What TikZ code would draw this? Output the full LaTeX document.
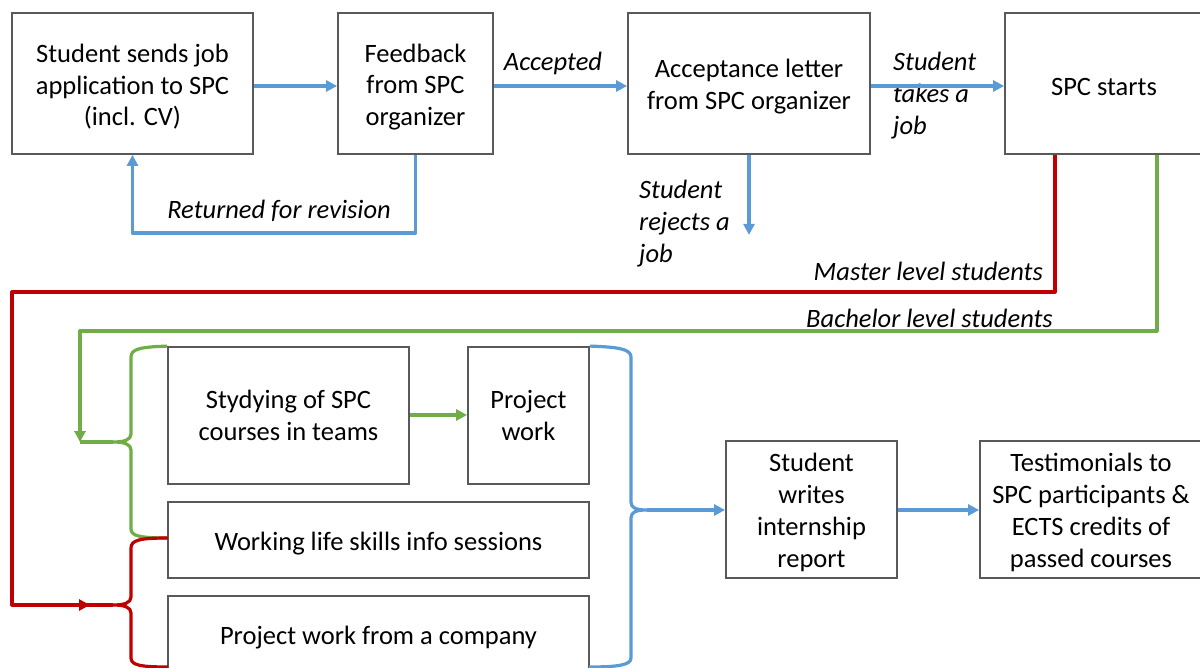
\documentclass[tikz,border=0pt]{standalone}
\usepackage{fontspec}
\setmainfont{Carlito}
\usetikzlibrary{arrows.meta}
\definecolor{cblue}{HTML}{5B9BD5}
\definecolor{cgreen}{HTML}{70AD47}
\definecolor{cred}{HTML}{C00000}
\definecolor{cgray}{HTML}{595959}
\newcommand\myup{\rule{0pt}{25pt}}
\tikzset{
  box/.style={draw=cgray,line width=1.8pt,fill=white,inner sep=0pt,align=center,
    font=\fontsize{26.5}{31.5}\selectfont,text=black},
  lab/.style={font=\fontsize{26.5}{32}\selectfont\itshape,inner sep=0pt,text=black},
  conn/.style={line width=3.2pt,line join=round},
  arr/.style={conn,-{Triangle[length=11pt,width=11pt]}},
}
\begin{document}
\begin{tikzpicture}[x=1pt,y=-1pt]
\useasboundingbox (0,0) rectangle (1200,668);
\clip (0,0) rectangle (1200,668);
% top row
\node[box,minimum width=241pt,minimum height=141pt] (b1) at (132.5,83.5) {\myup Student sends job\\application to SPC\\(incl. CV)};
\node[box,minimum width=155pt,minimum height=141pt] (b2) at (415.5,83.5) {\myup Feedback\\from SPC\\organizer};
\node[box,minimum width=242pt,minimum height=141pt] (b3) at (749,83.5) {\myup Acceptance letter\\from SPC organizer};
\node[box,minimum width=198pt,minimum height=141pt] (b4) at (1104,83.5) {\myup SPC starts};
% lower
\node[box,minimum width=241pt,minimum height=137pt] (l1) at (288.5,415.5) {Stydying of SPC\\courses in teams};
\node[box,minimum width=121pt,minimum height=137pt] (l2) at (528.5,415.5) {Project\\work};
\node[box,minimum width=421pt,minimum height=76pt] (l3) at (378.5,540) {\myup Working life skills info sessions};
\node[box,minimum width=421pt,minimum height=76pt] (l4) at (378.5,634) {\myup Project work from a company};
\node[box,minimum width=171pt,minimum height=137pt,font=\fontsize{26.5}{32}\selectfont] (l5) at (811.5,509.5) {\myup Student\\writes\\internship\\report};
\node[box,minimum width=222pt,minimum height=137pt,font=\fontsize{26.5}{32}\selectfont] (l6) at (1091,509.5) {\myup Testimonials to\\SPC participants \&\\ECTS credits of\\passed courses};
% labels
\node[lab] (tacc) at (553,63) {Accepted};
\node[lab,anchor=west,align=left] (ttake) at (893,96) {Student\\takes a\\job};
\node[lab,anchor=west,align=left] (trej) at (639,224) {Student\\rejects a\\job};
\node[lab] (tret) at (279,211) {Returned for revision};
\node[lab,anchor=east] (tmas) at (1043,271) {Master level students};
\node[lab,anchor=east] (tbac) at (1053,318) {Bachelor level students};
% blue connectors
\draw[arr,cblue] (b1.east |- 0,86) -- (b2.west |- 0,86);
\draw[arr,cblue] (b2.east |- 0,86) -- (b3.west |- 0,86);
\draw[arr,cblue] (b3.east |- 0,86) -- (b4.west |- 0,86);
\draw[arr,cblue] (b2.south) |- (b1.south |- 0,233) -- (b1.south);
\draw[arr,cblue] (b3.south) -- ++(0,80);
% braces tips
\coordinate (gtip) at (113,442);
\coordinate (rtip) at (113,605);
\coordinate (btip) at (647,510);
% green
\draw[arr,cgreen] (b4.south -| 1157,0) |- (80,331) -- (80,442);
\draw[conn,cgreen] (80,442) -- (gtip);
\draw[conn,cgreen] (l1.north west) .. controls (140,347) and (131,349) .. (131,357) -- (131,434)
  .. controls (131,440) and (124,442) .. (gtip)
  .. controls (124,442) and (131,444) .. (131,450) -- (131,529)
  .. controls (131,536) and (140,538) .. (168,538);
\draw[arr,cgreen] (l1.east |- 0,415) -- (l2.west |- 0,415);
% red
\draw[arr,cred] (b4.south -| 1055,0) |- (12,292) |- (90,605);
\draw[conn,cred] (86,605) -- (rtip);
\draw[conn,cred] (168,538) .. controls (140,538) and (131,540) .. (131,548) -- (131,597)
  .. controls (131,603) and (124,605) .. (rtip)
  .. controls (124,605) and (131,607) .. (131,613) -- (131,658)
  .. controls (131,665) and (140,667) .. (168,667);
% blue brace
\draw[conn,cblue] (l1.north east -| l2.east) .. controls (618,347) and (631,349) .. (631,357) -- (631,502)
  .. controls (631,508) and (636,510) .. (btip)
  .. controls (636,510) and (631,512) .. (631,518) -- (631,658)
  .. controls (631,665) and (618,667) .. (589,667);
\draw[arr,cblue] (btip) -- (l5.west |- btip);
\draw[arr,cblue] (l5.east |- 0,510) -- (l6.west |- 0,510);
\end{tikzpicture}
\end{document}
